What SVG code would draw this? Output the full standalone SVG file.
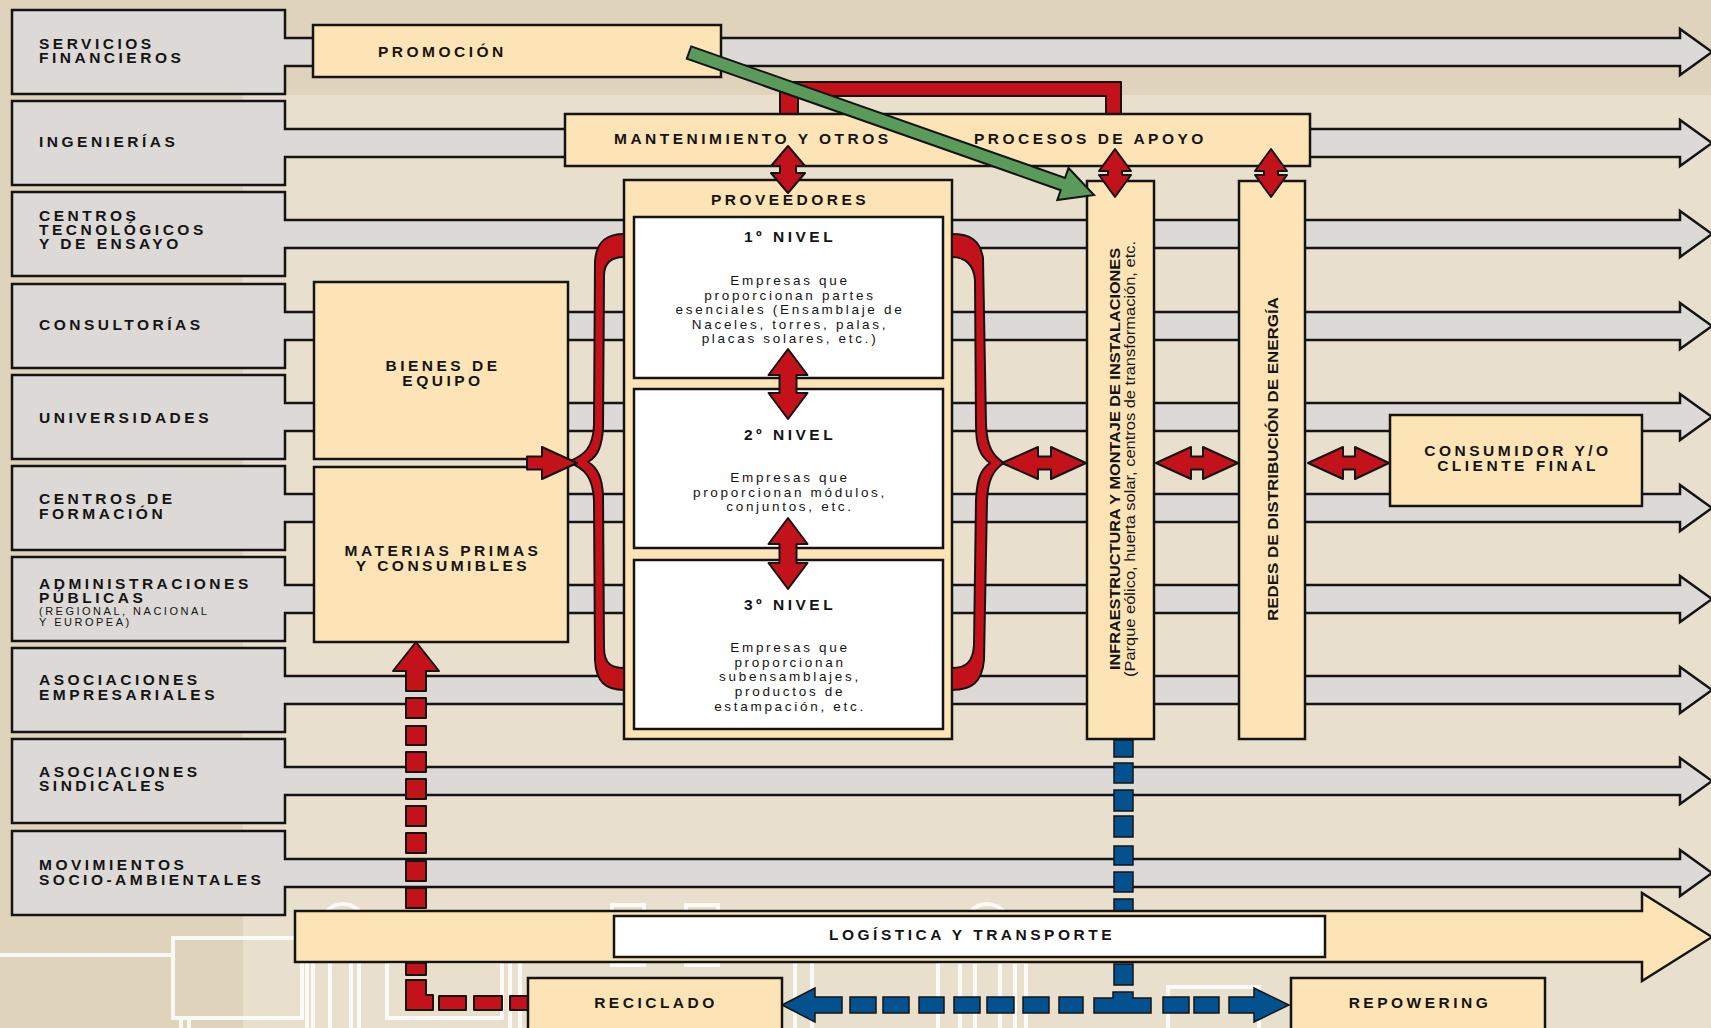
<svg xmlns="http://www.w3.org/2000/svg" width="1711" height="1028" viewBox="0 0 1711 1028">
<style>
.row{fill:#dcd9d7;stroke:#141414;stroke-width:2.5;stroke-linejoin:miter}
.bx{fill:#fde4b6;stroke:#141414;stroke-width:2.5}
.wb{fill:#ffffff;stroke:#141414;stroke-width:2.5}
.red{fill:#c4121a;stroke:#141414;stroke-width:2;stroke-linejoin:round}
.blue{fill:#03518f;stroke:#141414;stroke-width:1.5}
.grn{fill:#5a9b5b;stroke:#141414;stroke-width:2}
.deco{fill:none;stroke:#ffffff;stroke-width:4;opacity:0.85}
text{font-family:"Liberation Sans",Arial,sans-serif;fill:#141414}
.t{font-weight:700;font-size:15.5px;letter-spacing:3.5px}
.s{font-size:11px;letter-spacing:2.5px}
.b{font-size:13.5px;letter-spacing:2.7px}
.m{text-anchor:middle}
</style>
<defs>
<path id="rowshape" d="M12,0 H285 V28 H1680 V19 L1712,42 L1680,65 V56 H285 V84 H12 Z"/>
</defs>

<g id="background">
<rect x="0" y="0" width="1711" height="1028" fill="#e8dfcc"/>
<rect x="0" y="0" width="1711" height="95" fill="#dfd3bb"/>
<rect x="0" y="0" width="243" height="1028" fill="#dfd3bb"/>
<g class="deco">
<line x1="0" y1="955" x2="173" y2="955"/>
<rect x="173" y="938" width="129" height="80"/>
<line x1="181" y1="1018" x2="181" y2="1030"/>
<line x1="189" y1="1018" x2="189" y2="1030"/>
<circle cx="343" cy="926" r="22"/>
<rect x="612" y="905" width="32" height="60"/>
<rect x="686" y="905" width="32" height="60"/>
<line x1="307" y1="962" x2="307" y2="1030"/>
<line x1="313" y1="962" x2="313" y2="1030"/>
<line x1="330" y1="962" x2="330" y2="1030"/>
<line x1="351" y1="962" x2="351" y2="1030"/>
<line x1="359" y1="962" x2="359" y2="1030"/>
<rect x="387" y="962" width="115" height="56"/>
<line x1="510" y1="962" x2="510" y2="1030"/>
<line x1="520" y1="962" x2="520" y2="1030"/>
<line x1="795" y1="962" x2="795" y2="1030"/>
<line x1="812" y1="962" x2="812" y2="1030"/>
<circle cx="987" cy="926" r="22"/>
<rect x="938" y="962" width="88" height="70"/>
<line x1="960" y1="962" x2="960" y2="1030"/>
<line x1="975" y1="962" x2="975" y2="1030"/>
<line x1="1000" y1="962" x2="1000" y2="1030"/>
<line x1="1015" y1="962" x2="1015" y2="1030"/>
<rect x="1168" y="987" width="91" height="45"/>
</g>
</g>

<g id="rows">
<use href="#rowshape" class="row" y="10"/>
<use href="#rowshape" class="row" y="101"/>
<use href="#rowshape" class="row" y="192"/>
<use href="#rowshape" class="row" y="284"/>
<use href="#rowshape" class="row" y="375"/>
<use href="#rowshape" class="row" y="466"/>
<use href="#rowshape" class="row" y="557"/>
<use href="#rowshape" class="row" y="648"/>
<use href="#rowshape" class="row" y="739"/>
<use href="#rowshape" class="row" y="831"/>
</g>

<g id="row-labels">
<g id="servicios-financieros"><text class="t" x="39" y="48.5">SERVICIOS</text><text class="t" x="39" y="62.5">FINANCIEROS</text></g>
<g id="ingenierias"><text class="t" x="39" y="147">INGENIERÍAS</text></g>
<g id="centros-tecnologicos"><text class="t" x="39" y="221">CENTROS</text><text class="t" x="39" y="235">TECNOLÓGICOS</text><text class="t" x="39" y="249">Y DE ENSAYO</text></g>
<g id="consultorias"><text class="t" x="39" y="330">CONSULTORÍAS</text></g>
<g id="universidades"><text class="t" x="39" y="423">UNIVERSIDADES</text></g>
<g id="centros-formacion"><text class="t" x="39" y="504">CENTROS DE</text><text class="t" x="39" y="519">FORMACIÓN</text></g>
<g id="administraciones"><text class="t" x="39" y="588.5">ADMINISTRACIONES</text><text class="t" x="39" y="602.5">PÚBLICAS</text><text class="s" x="39" y="615">(REGIONAL, NACIONAL</text><text class="s" x="39" y="626">Y EUROPEA)</text></g>
<g id="asoc-empresariales"><text class="t" x="39" y="685">ASOCIACIONES</text><text class="t" x="39" y="700">EMPRESARIALES</text></g>
<g id="asoc-sindicales"><text class="t" x="39" y="777">ASOCIACIONES</text><text class="t" x="39" y="791">SINDICALES</text></g>
<g id="movimientos"><text class="t" x="39" y="870">MOVIMIENTOS</text><text class="t" x="39" y="885">SOCIO-AMBIENTALES</text></g>
</g>

<g id="promocion"><rect class="bx" x="313" y="25" width="408" height="52"/><text class="t" x="378" y="57">PROMOCIÓN</text></g>

<g id="connectors">
<polygon class="red" points="780,116 780,82 1121,82 1121,116 1106,116 1106,96 798,96 798,116"/>
</g>

<g id="mantenimiento"><rect class="bx" x="565" y="114" width="745" height="52"/><text class="t" x="614" y="144">MANTENIMIENTO Y OTROS</text><text class="t" x="974" y="144">PROCESOS DE APOYO</text></g>

<g id="bienes-equipo"><rect class="bx" x="314" y="282" width="254" height="177"/><text class="t m" x="443" y="371">BIENES DE</text><text class="t m" x="443" y="386">EQUIPO</text></g>
<g id="materias-primas"><rect class="bx" x="314" y="467" width="254" height="175"/><text class="t m" x="443" y="556">MATERIAS PRIMAS</text><text class="t m" x="443" y="571">Y CONSUMIBLES</text></g>

<g id="proveedores">
<rect class="bx" x="624" y="180" width="328" height="559"/>
<text class="t m" x="790" y="205">PROVEEDORES</text>
<g id="nivel1"><rect class="wb" x="634" y="217" width="309" height="161"/>
<text class="t m" x="790" y="242">1º NIVEL</text>
<text class="b m" x="790" y="285">Empresas que</text><text class="b m" x="790" y="300">proporcionan partes</text><text class="b m" x="790" y="314">esenciales (Ensamblaje de</text><text class="b m" x="790" y="329">Naceles, torres, palas,</text><text class="b m" x="790" y="343">placas solares, etc.)</text></g>
<g id="nivel2"><rect class="wb" x="634" y="389" width="309" height="159"/>
<text class="t m" x="790" y="440">2º NIVEL</text>
<text class="b m" x="790" y="482">Empresas que</text><text class="b m" x="790" y="497">proporcionan módulos,</text><text class="b m" x="790" y="511">conjuntos, etc.</text></g>
<g id="nivel3"><rect class="wb" x="634" y="560" width="309" height="169"/>
<text class="t m" x="790" y="610">3º NIVEL</text>
<text class="b m" x="790" y="652">Empresas que</text><text class="b m" x="790" y="667">proporcionan</text><text class="b m" x="790" y="681">subensamblajes,</text><text class="b m" x="790" y="696">productos de</text><text class="b m" x="790" y="711">estampación, etc.</text></g>
</g>

<g id="infraestructura"><rect class="bx" x="1087" y="181" width="67" height="558"/>
<text font-weight="700" font-size="15" text-anchor="middle" textLength="422" lengthAdjust="spacingAndGlyphs" transform="translate(1120,459) rotate(-90)">INFRAESTRUCTURA Y MONTAJE DE INSTALACIONES</text>
<text font-size="14" text-anchor="middle" textLength="436" lengthAdjust="spacingAndGlyphs" transform="translate(1135,459) rotate(-90)">(Parque eólico, huerta solar, centros de transformación, etc.</text>
</g>
<g id="redes"><rect class="bx" x="1239" y="181" width="66" height="558"/>
<text font-weight="700" font-size="15" text-anchor="middle" textLength="324" lengthAdjust="spacingAndGlyphs" transform="translate(1278,459) rotate(-90)">REDES DE DISTRIBUCIÓN DE ENERGÍA</text>
</g>
<g id="consumidor"><rect class="bx" x="1390" y="415" width="252" height="91"/><text class="t m" x="1518" y="456">CONSUMIDOR Y/O</text><text class="t m" x="1518" y="471">CLIENTE FINAL</text></g>

<g id="connectors-main">
<polygon class="grn" points="691.2,46.4 1065.1,177.9 1068.5,168 1094,195 1057.3,200.1 1060.7,190.2 686.8,58.6"/>
<polygon class="red" points="788,146 805,166 796,166 796,173 805,173 788,193 771,173 780,173 780,166 771,166"/>
<polygon class="red" points="1115,149 1131,171 1122,171 1122,175 1131,175 1115,197 1099,175 1108,175 1108,171 1099,171"/>
<polygon class="red" points="1271,149 1287,171 1278,171 1278,175 1287,175 1271,197 1255,175 1264,175 1264,171 1255,171"/>
<polygon class="red" points="788,349 807.5,375 796.5,375 796.5,393 807.5,393 788,419 768.5,393 779.5,393 779.5,375 768.5,375"/>
<polygon class="red" points="788,518 807.5,544 796.5,544 796.5,563 807.5,563 788,589 768.5,563 779.5,563 779.5,544 768.5,544"/>
<path class="red" d="M624,234 C606,234 596,242 595,262 L594,425 C593,448 585,455 568,462 C585,468 593,478 594,500 L595,660 C596,682 606,690 624,690 L624,668 C612,668 604,664 604,648 L603,495 C602,478 598,468 588,462 C598,456 602,446 603,428 L604,276 C604,262 612,257 624,257 Z"/>
<path class="red" d="M952,234 C970,234 980,240 983,258 L986,425 C987,447 993,456 1004,463 C993,470 988,480 987,500 L984,660 C982,682 972,690 952,690 L952,668 C966,668 973,662 974,645 L976,500 C977,480 980,470 990,463 C980,456 976,446 976,425 L975,280 C974,266 966,257 952,257 Z"/>
<polygon class="red" points="527,456.5 542,456.5 542,447 577,463 542,479 542,469.5 527,469.5"/>
<polygon class="red" points="1002,463 1038,447 1038,456.5 1051,456.5 1051,447 1086,463 1051,479 1051,469.5 1038,469.5 1038,479"/>
<polygon class="red" points="1156,463 1191,447 1191,456.5 1203,456.5 1203,447 1238,463 1203,479 1203,469.5 1191,469.5 1191,479"/>
<polygon class="red" points="1308,463 1343,447 1343,456.5 1355,456.5 1355,447 1389,463 1355,479 1355,469.5 1343,469.5 1343,479"/>
<g id="recycle-flow">
<polygon class="red" points="416,642 439,671 426,671 426,691 406,691 406,671 393,671"/>
<rect class="red" x="406" y="698" width="20" height="20"/>
<rect class="red" x="406" y="726" width="20" height="19"/>
<rect class="red" x="406" y="752" width="20" height="20"/>
<rect class="red" x="406" y="779" width="20" height="20"/>
<rect class="red" x="406" y="806" width="20" height="20"/>
<rect class="red" x="406" y="833" width="20" height="20"/>
<rect class="red" x="406" y="861" width="20" height="20"/>
<rect class="red" x="406" y="888" width="20" height="20"/>
<rect class="red" x="406" y="963" width="20" height="12"/>
<polygon class="red" points="406,980 426,980 426,995 433,995 433,1010 406,1010"/>
<rect class="red" x="439" y="996" width="27" height="14"/>
<rect class="red" x="474" y="996" width="28" height="14"/>
<rect class="red" x="510" y="996" width="20" height="14"/>
</g>
<g id="repowering-flow">
<rect class="blue" x="1114" y="740" width="19" height="17"/>
<rect class="blue" x="1114" y="763" width="19" height="20"/>
<rect class="blue" x="1114" y="790" width="19" height="21"/>
<rect class="blue" x="1114" y="816" width="19" height="21"/>
<rect class="blue" x="1114" y="846" width="19" height="19"/>
<rect class="blue" x="1114" y="872" width="19" height="20"/>
<rect class="blue" x="1114" y="899" width="19" height="14"/>
<rect class="blue" x="1114" y="964" width="19" height="21"/>
<polygon class="blue" points="1094,998 1113,998 1113,992 1133,992 1133,998 1151,998 1151,1013 1094,1013"/>
<rect class="blue" x="850" y="997" width="26" height="16"/>
<rect class="blue" x="883" y="997" width="26" height="16"/>
<rect class="blue" x="919" y="997" width="25" height="16"/>
<rect class="blue" x="954" y="997" width="26" height="16"/>
<rect class="blue" x="987" y="997" width="27" height="16"/>
<rect class="blue" x="1023" y="997" width="26" height="16"/>
<rect class="blue" x="1059" y="997" width="24" height="16"/>
<rect class="blue" x="1163" y="997" width="26" height="16"/>
<rect class="blue" x="1194" y="997" width="25" height="16"/>
<polygon class="blue" points="782,1005 815,988 815,997 842,997 842,1013 815,1013 815,1022"/>
<polygon class="blue" points="1229,997 1254,997 1254,988 1289,1005 1254,1022 1254,1013 1229,1013"/>
</g>
</g>

<g id="logistica">
<polygon class="bx" points="295,911 1642,911 1642,893 1712,937 1642,981 1642,962 295,962"/>
<rect class="wb" x="614" y="916" width="711" height="41"/>
<text class="t m" x="972" y="940">LOGÍSTICA Y TRANSPORTE</text>
</g>
<g id="reciclado"><rect class="bx" x="528" y="978" width="254" height="62"/><text class="t m" x="656" y="1008">RECICLADO</text></g>
<g id="repowering"><rect class="bx" x="1291" y="978" width="254" height="62"/><text class="t m" x="1420" y="1008">REPOWERING</text></g>
</svg>
